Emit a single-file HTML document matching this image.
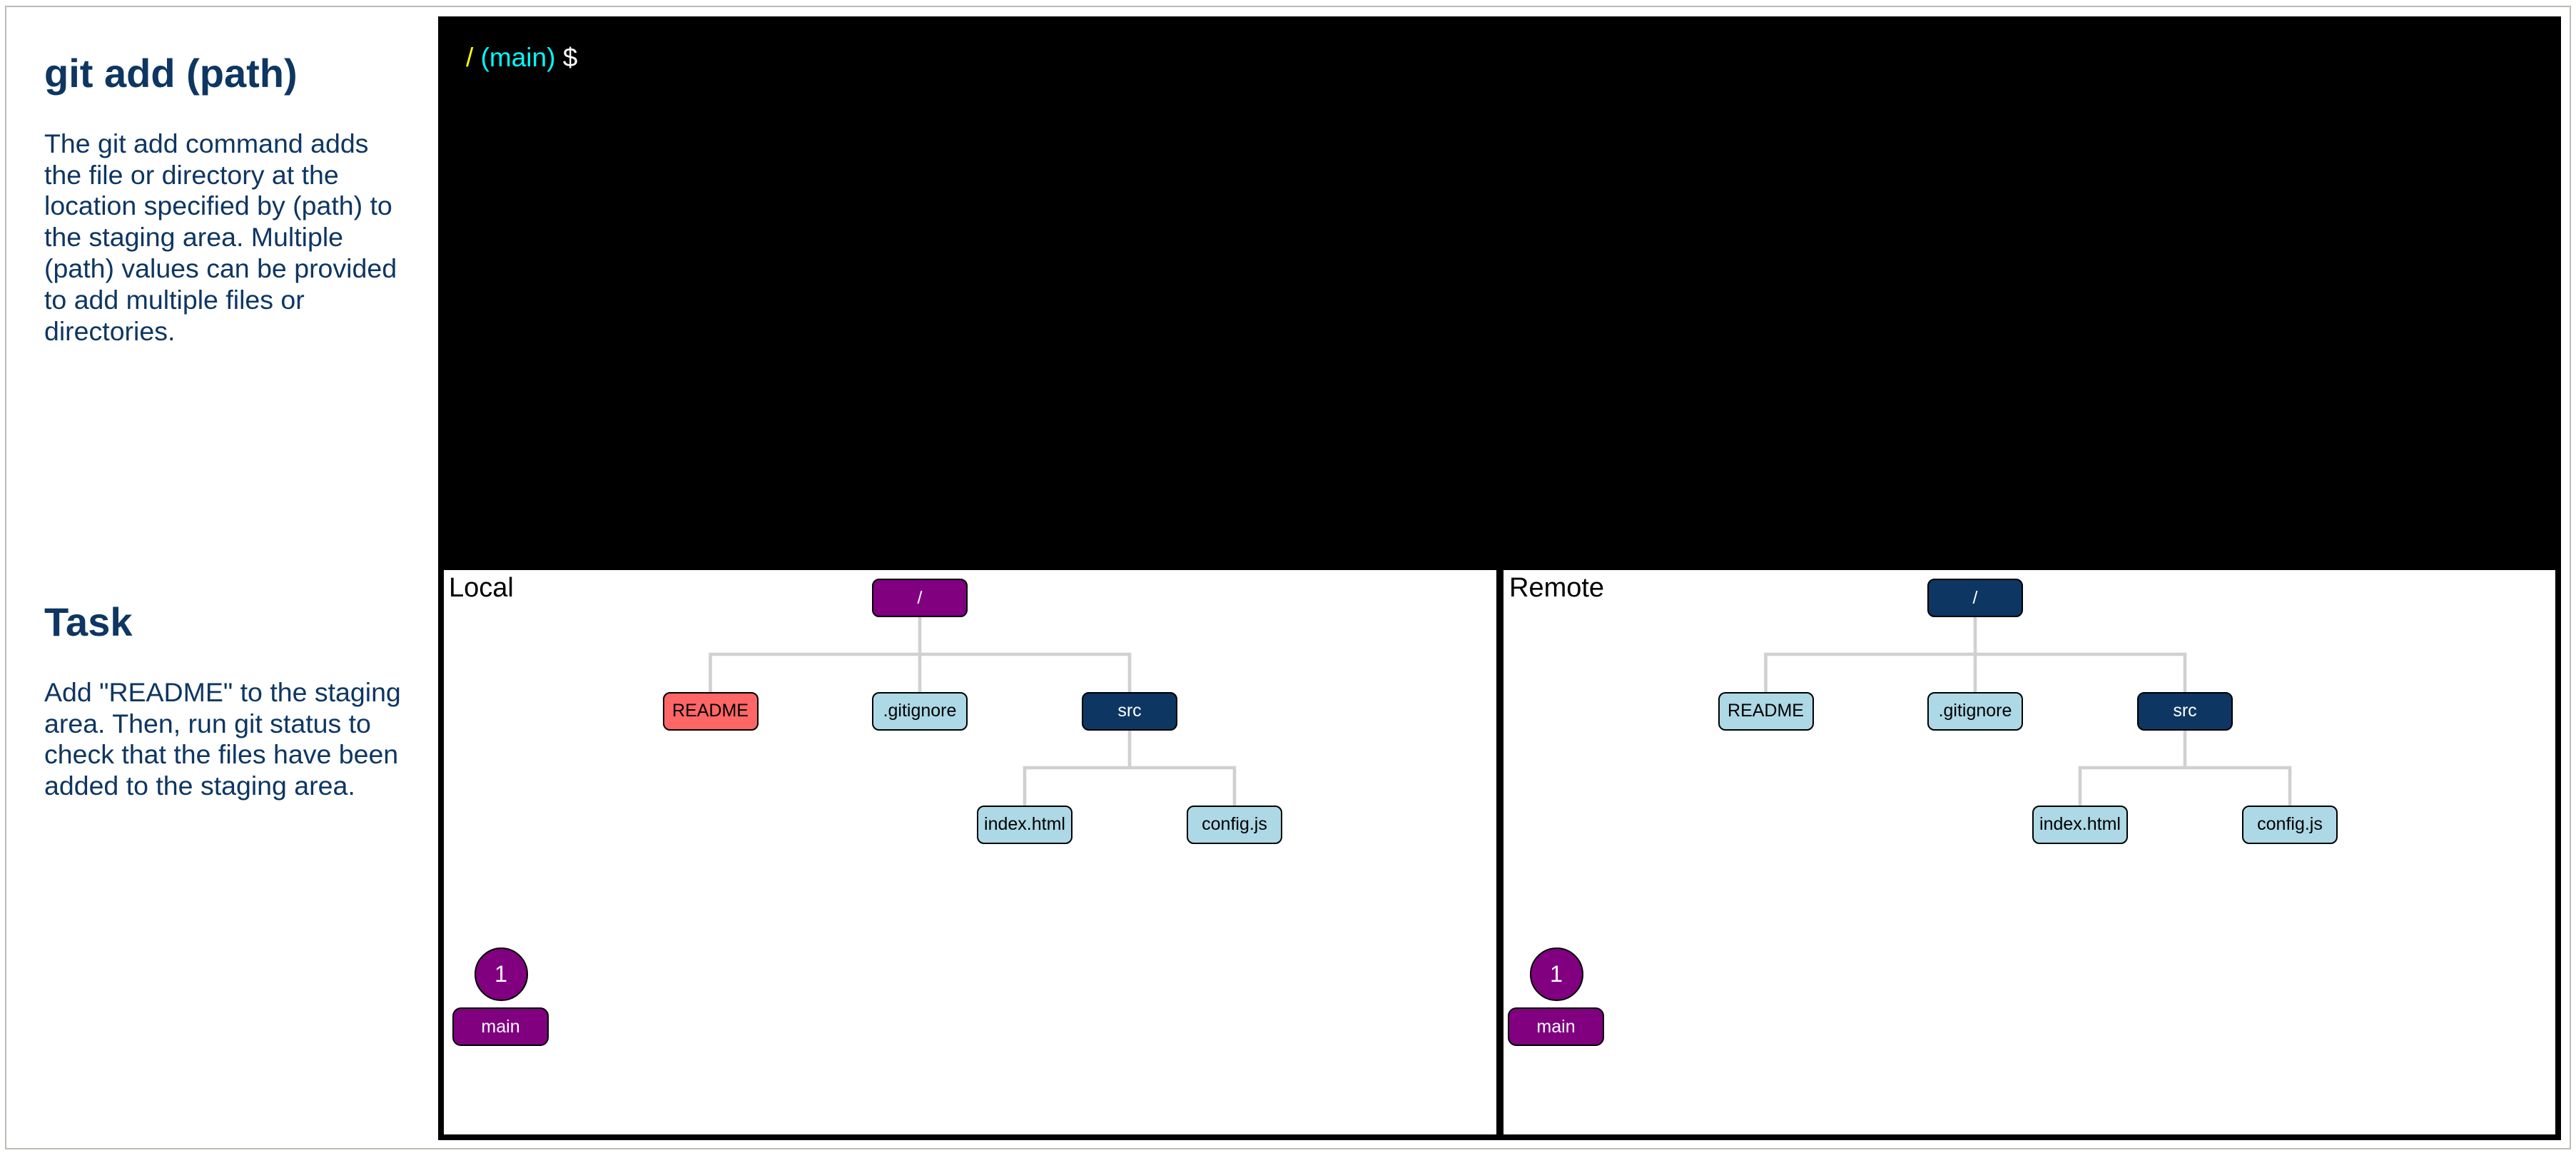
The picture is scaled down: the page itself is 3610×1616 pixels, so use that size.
<!DOCTYPE html>
<html>
<head>
<meta charset="utf-8">
<style>
  html, body { margin:0; padding:0; }
  body { width:3610px; height:1616px; position:relative; overflow:hidden; background:#fff;
         font-family:"Liberation Sans", Arial, sans-serif; }
  .abs { position:absolute; }
  .outer { left:7px; top:8px; width:3596px; height:1603px; border:2px solid #b7beb3; box-sizing:border-box; }
  .black { left:614px; top:23px; width:2975px; height:1575px; background:#000; }
  .panel { top:799px; height:791px; background:#fff; }
  .h { color:#0e3662; font-weight:bold; font-size:56px; line-height:56px; left:62px; white-space:nowrap; }
  .p { color:#0e3662; font-size:37.5px; line-height:43.8px; left:62px; white-space:nowrap; }
  .prompt { left:653px; top:61.7px; font-size:37px; line-height:37px; white-space:pre; }
  .lbl { font-size:38px; line-height:38px; color:#000; top:804.8px; white-space:nowrap; }
  .node { position:absolute; width:134px; height:54px; box-sizing:border-box; border:2.5px solid #000;
          border-radius:10px; display:flex; align-items:center; justify-content:center;
          font-size:25px; white-space:nowrap; }
  .purple { background:#800080; color:#fff; }
  .navy { background:#0e3662; color:#fff; }
  .light { background:#add8e6; color:#000; }
  .red { background:#ff6666; color:#000; }
  .circle { position:absolute; width:75px; height:75px; box-sizing:border-box; border:2.5px solid #000;
            border-radius:50%; background:#800080; color:#fff; display:flex; align-items:center;
            justify-content:center; font-size:32.5px; }
  .branch { position:absolute; width:135px; height:54px; box-sizing:border-box; border:2.5px solid #000;
            border-radius:12px; background:#800080; color:#fff; display:flex; align-items:center;
            justify-content:center; font-size:25px; }
</style>
</head>
<body>
  <div class="abs outer"></div>

  <div class="abs h" style="top:75.3px;">git add (path)</div>
  <div class="abs p" style="top:179.9px;">The git add command adds<br>the file or directory at the<br>location specified by (path) to<br>the staging area. Multiple<br>(path) values can be provided<br>to add multiple files or<br>directories.</div>

  <div class="abs h" style="top:843.6px;">Task</div>
  <div class="abs p" style="top:948.9px;">Add "README" to the staging<br>area. Then, run git status to<br>check that the files have been<br>added to the staging area.</div>

  <div class="abs black"></div>
  <div class="abs prompt"><span style="color:#ffff00">/</span> <span style="color:#00ffff">(main)</span> <span style="color:#fff">$</span></div>

  <div class="abs panel" style="left:622px; width:1475px;"></div>
  <div class="abs panel" style="left:2107px; width:1474px;"></div>

  <div class="abs lbl" style="left:629px;">Local</div>
  <div class="abs lbl" style="left:2115px;">Remote</div>

  <svg class="abs" style="left:0;top:0" width="3610" height="1616" viewBox="0 0 3610 1616">
    <g fill="none" stroke="#d0d0d0" stroke-width="4.6" stroke-linecap="square">
      <path d="M1289,865 V917 M995.5,917 H1583 M995.5,917 V968 M1289,917 V968 M1583,917 V968 M1583,1023 V1076 M1436,1076 H1730 M1436,1076 V1127 M1730,1076 V1127"/>
      <path transform="translate(1479,0)" d="M1289,865 V917 M995.5,917 H1583 M995.5,917 V968 M1289,917 V968 M1583,917 V968 M1583,1023 V1076 M1436,1076 H1730 M1436,1076 V1127 M1730,1076 V1127"/>
    </g>
  </svg>

  <!-- Local tree -->
  <div class="node purple" style="left:1222px; top:811px;">/</div>
  <div class="node red" style="left:928.5px; top:969.5px;">README</div>
  <div class="node light" style="left:1222px; top:969.5px;">.gitignore</div>
  <div class="node navy" style="left:1516px; top:969.5px;">src</div>
  <div class="node light" style="left:1369px; top:1128.5px;">index.html</div>
  <div class="node light" style="left:1663px; top:1128.5px;">config.js</div>

  <div class="circle" style="left:664.5px; top:1328px;">1</div>
  <div class="branch" style="left:634px; top:1412px;">main</div>

  <!-- Remote tree -->
  <div class="node navy" style="left:2701px; top:811px;">/</div>
  <div class="node light" style="left:2407.5px; top:969.5px;">README</div>
  <div class="node light" style="left:2701px; top:969.5px;">.gitignore</div>
  <div class="node navy" style="left:2995px; top:969.5px;">src</div>
  <div class="node light" style="left:2848px; top:1128.5px;">index.html</div>
  <div class="node light" style="left:3142px; top:1128.5px;">config.js</div>

  <div class="circle" style="left:2143.5px; top:1328px;">1</div>
  <div class="branch" style="left:2113px; top:1412px;">main</div>
</body>
</html>
